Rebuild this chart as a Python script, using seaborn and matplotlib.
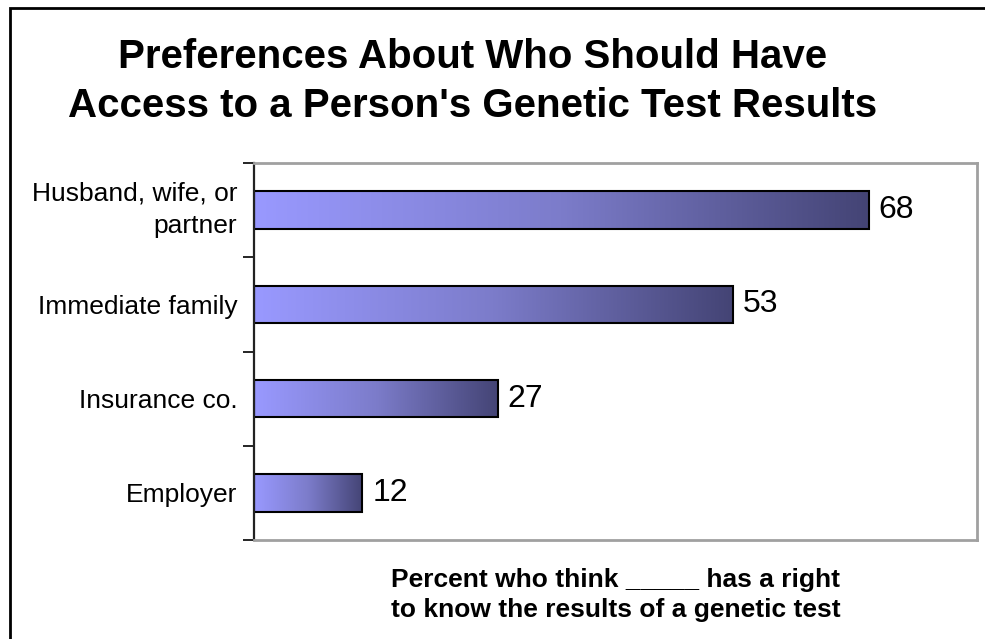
import numpy as np
import pandas as pd
import matplotlib
matplotlib.use("Agg")
import matplotlib.pyplot as plt
from matplotlib.colors import LinearSegmentedColormap
from matplotlib.patches import Rectangle
from matplotlib.transforms import ScaledTranslation
import seaborn as sns

categories = ["Husband, wife, or\npartner", "Immediate family", "Insurance co.", "Employer"]
percent = [68, 53, 27, 12]

title_text = "Preferences About Who Should Have\nAccess to a Person's Genetic Test Results"
xlabel_text = "Percent who think _____ has a right\nto know the results of a genetic test"

sns.set_theme(style="white")
plt.rcParams["font.family"] = ["Liberation Sans", "DejaVu Sans"]
plt.rcParams["text.color"] = "black"

W, H = 985, 639
fig = plt.figure(figsize=(W / 100, H / 100), dpi=100)
ax = fig.add_axes([254 / W, 1 - 540 / H, (977 - 254) / W, (540 - 163) / H])

df = pd.DataFrame({"category": categories, "percent": percent})
sns.barplot(data=df, x="percent", y="category", orient="h", width=0.4,
            color="#7777cc", edgecolor="black", linewidth=1.5, ax=ax)

# horizontal gradient fill inside each bar
grad_cmap = LinearSegmentedColormap.from_list("bar_grad", ["#9999ff", "#7c7cca", "#444475"])
gradient = np.linspace(0, 1, 256).reshape(1, -1)
for patch in ax.patches:
    x0, y0 = patch.get_x(), patch.get_y()
    w, h = patch.get_width(), patch.get_height()
    im = ax.imshow(gradient, cmap=grad_cmap, aspect="auto",
                   extent=[x0, x0 + w, y0 + h, y0], zorder=patch.get_zorder() - 0.1,
                   interpolation="bicubic")
    im.set_clip_path(patch)
    patch.set_facecolor("none")
ax.set_xlim(0, 80)
ax.set_ylim(3.5, -0.5)

for container in ax.containers:
    ax.bar_label(container, labels=[str(v) for v in percent], padding=7,
                 fontsize=23, color="black")

# axes styling
ax.set_xticks([])
ax.set_yticks(range(len(categories)))
ax.set_yticklabels(categories, fontsize=19, color="black")
for lbl in ax.get_yticklabels():
    if "\n" in lbl.get_text():
        lbl.set_linespacing(1.45)
        lbl.set_verticalalignment("center")
        lbl.set_transform(lbl.get_transform() + ScaledTranslation(0, -2.5 / 100, fig.dpi_scale_trans))
ax.tick_params(axis="y", which="major", length=0, pad=12)
ax.set_yticks(np.arange(-0.5, len(categories), 1.0), minor=True)
ax.tick_params(axis="y", which="minor", length=8, width=1.2, color="black", direction="out", left=True)
ax.set_ylabel("")
ax.set_xlabel(xlabel_text, fontsize=19, fontweight="bold", labelpad=20,
              linespacing=1.35, color="black", multialignment="center")

for side in ["top", "right", "bottom"]:
    ax.spines[side].set_color("#a0a0a0")
    ax.spines[side].set_linewidth(2)
ax.spines["left"].set_color("#222222")
ax.spines["left"].set_linewidth(1.6)

fig.text(473 / W, 1 - 81.5 / H, title_text, ha="center", va="center", color="black",
         fontsize=29, fontweight="bold", linespacing=1.38)

# outer chart frame
fig.patches.append(Rectangle((10 / W, -0.5), 2.0, 1.5 - 8 / H, transform=fig.transFigure,
                             fill=False, edgecolor="black", linewidth=2))

fig.savefig("out.png", dpi=100, facecolor="white")
